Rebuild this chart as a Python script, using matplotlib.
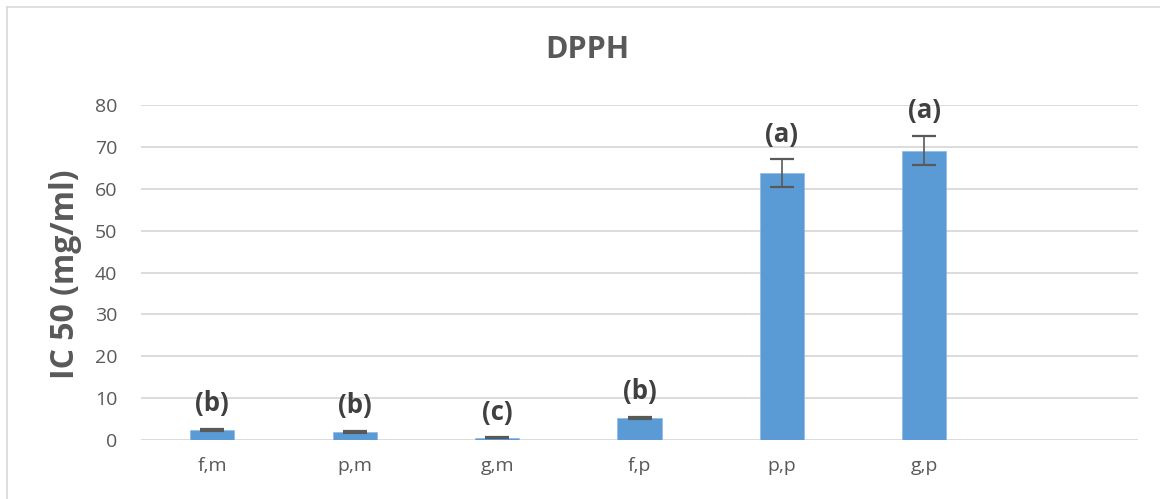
import matplotlib
matplotlib.use("Agg")
import matplotlib.pyplot as plt
from matplotlib.lines import Line2D

categories = ["f,m", "p,m", "g,m", "f,p", "p,p", "g,p"]
values = [2.45, 1.95, 0.55, 5.2, 63.8, 69.1]
errors = [0.2, 0.2, 0.15, 0.3, 3.3, 3.5]
letters = ["(b)", "(b)", "(c)", "(b)", "(a)", "(a)"]
yticks = [0, 10, 20, 30, 40, 50, 60, 70, 80]

plt.rcParams['font.family'] = ['Open Sans', 'DejaVu Sans']

fig = plt.figure(figsize=(11.6, 4.99), dpi=100)
ax = fig.add_axes([141/1160, 1 - 440/499, (1138-141)/1160, (440-105)/499])

x = list(range(len(categories)))
ax.bar(x, values, width=0.31, color="#5B9BD5", edgecolor="#8FB8E3", linewidth=0.5, zorder=3)
ax.errorbar(x, values, yerr=errors, fmt="none", ecolor="#595959", elinewidth=1.2,
            capsize=8.5, capthick=1.6, zorder=4)

for xi, v, e, lab in zip(x, values, errors, letters):
    ax.annotate(lab, xy=(xi, v + e), xytext=(0, 18), textcoords="offset points",
                ha="center", va="center", fontsize=18.5, fontweight="bold", color="#404040")

ax.set_xlim(-0.5, 6.5)
ax.set_ylim(0, 80)
ax.set_yticks(yticks)
ax.set_xticks(x)
ax.set_xticklabels(categories)
ax.tick_params(axis="both", length=0, labelsize=14, colors="#595959")
ax.tick_params(axis="x", pad=12)
ax.tick_params(axis="y", pad=17)
ax.yaxis.grid(True, color="#d9d9d9", linewidth=1.3, zorder=0)
ax.set_axisbelow(True)
for s in ax.spines.values():
    s.set_visible(False)

fig.text(65/1160, 1 - 274/499, "IC 50 (mg/ml)", rotation=90, ha="center", va="center",
         fontsize=23, fontweight="bold", color="#595959")

fig.text(587/1160, 1 - 50/499, "DPPH", ha="center", va="center",
         fontsize=22, fontweight="bold", color="#595959")

# chart border (top and left visible)
fig.add_artist(Line2D([7/1160, 7/1160], [0, 1 - 7/499], transform=fig.transFigure,
                      color="#d9d9d9", linewidth=1.2))
fig.add_artist(Line2D([7/1160, 1], [1 - 7/499, 1 - 7/499], transform=fig.transFigure,
                      color="#d9d9d9", linewidth=1.2))

fig.savefig("out.png", dpi=100)
